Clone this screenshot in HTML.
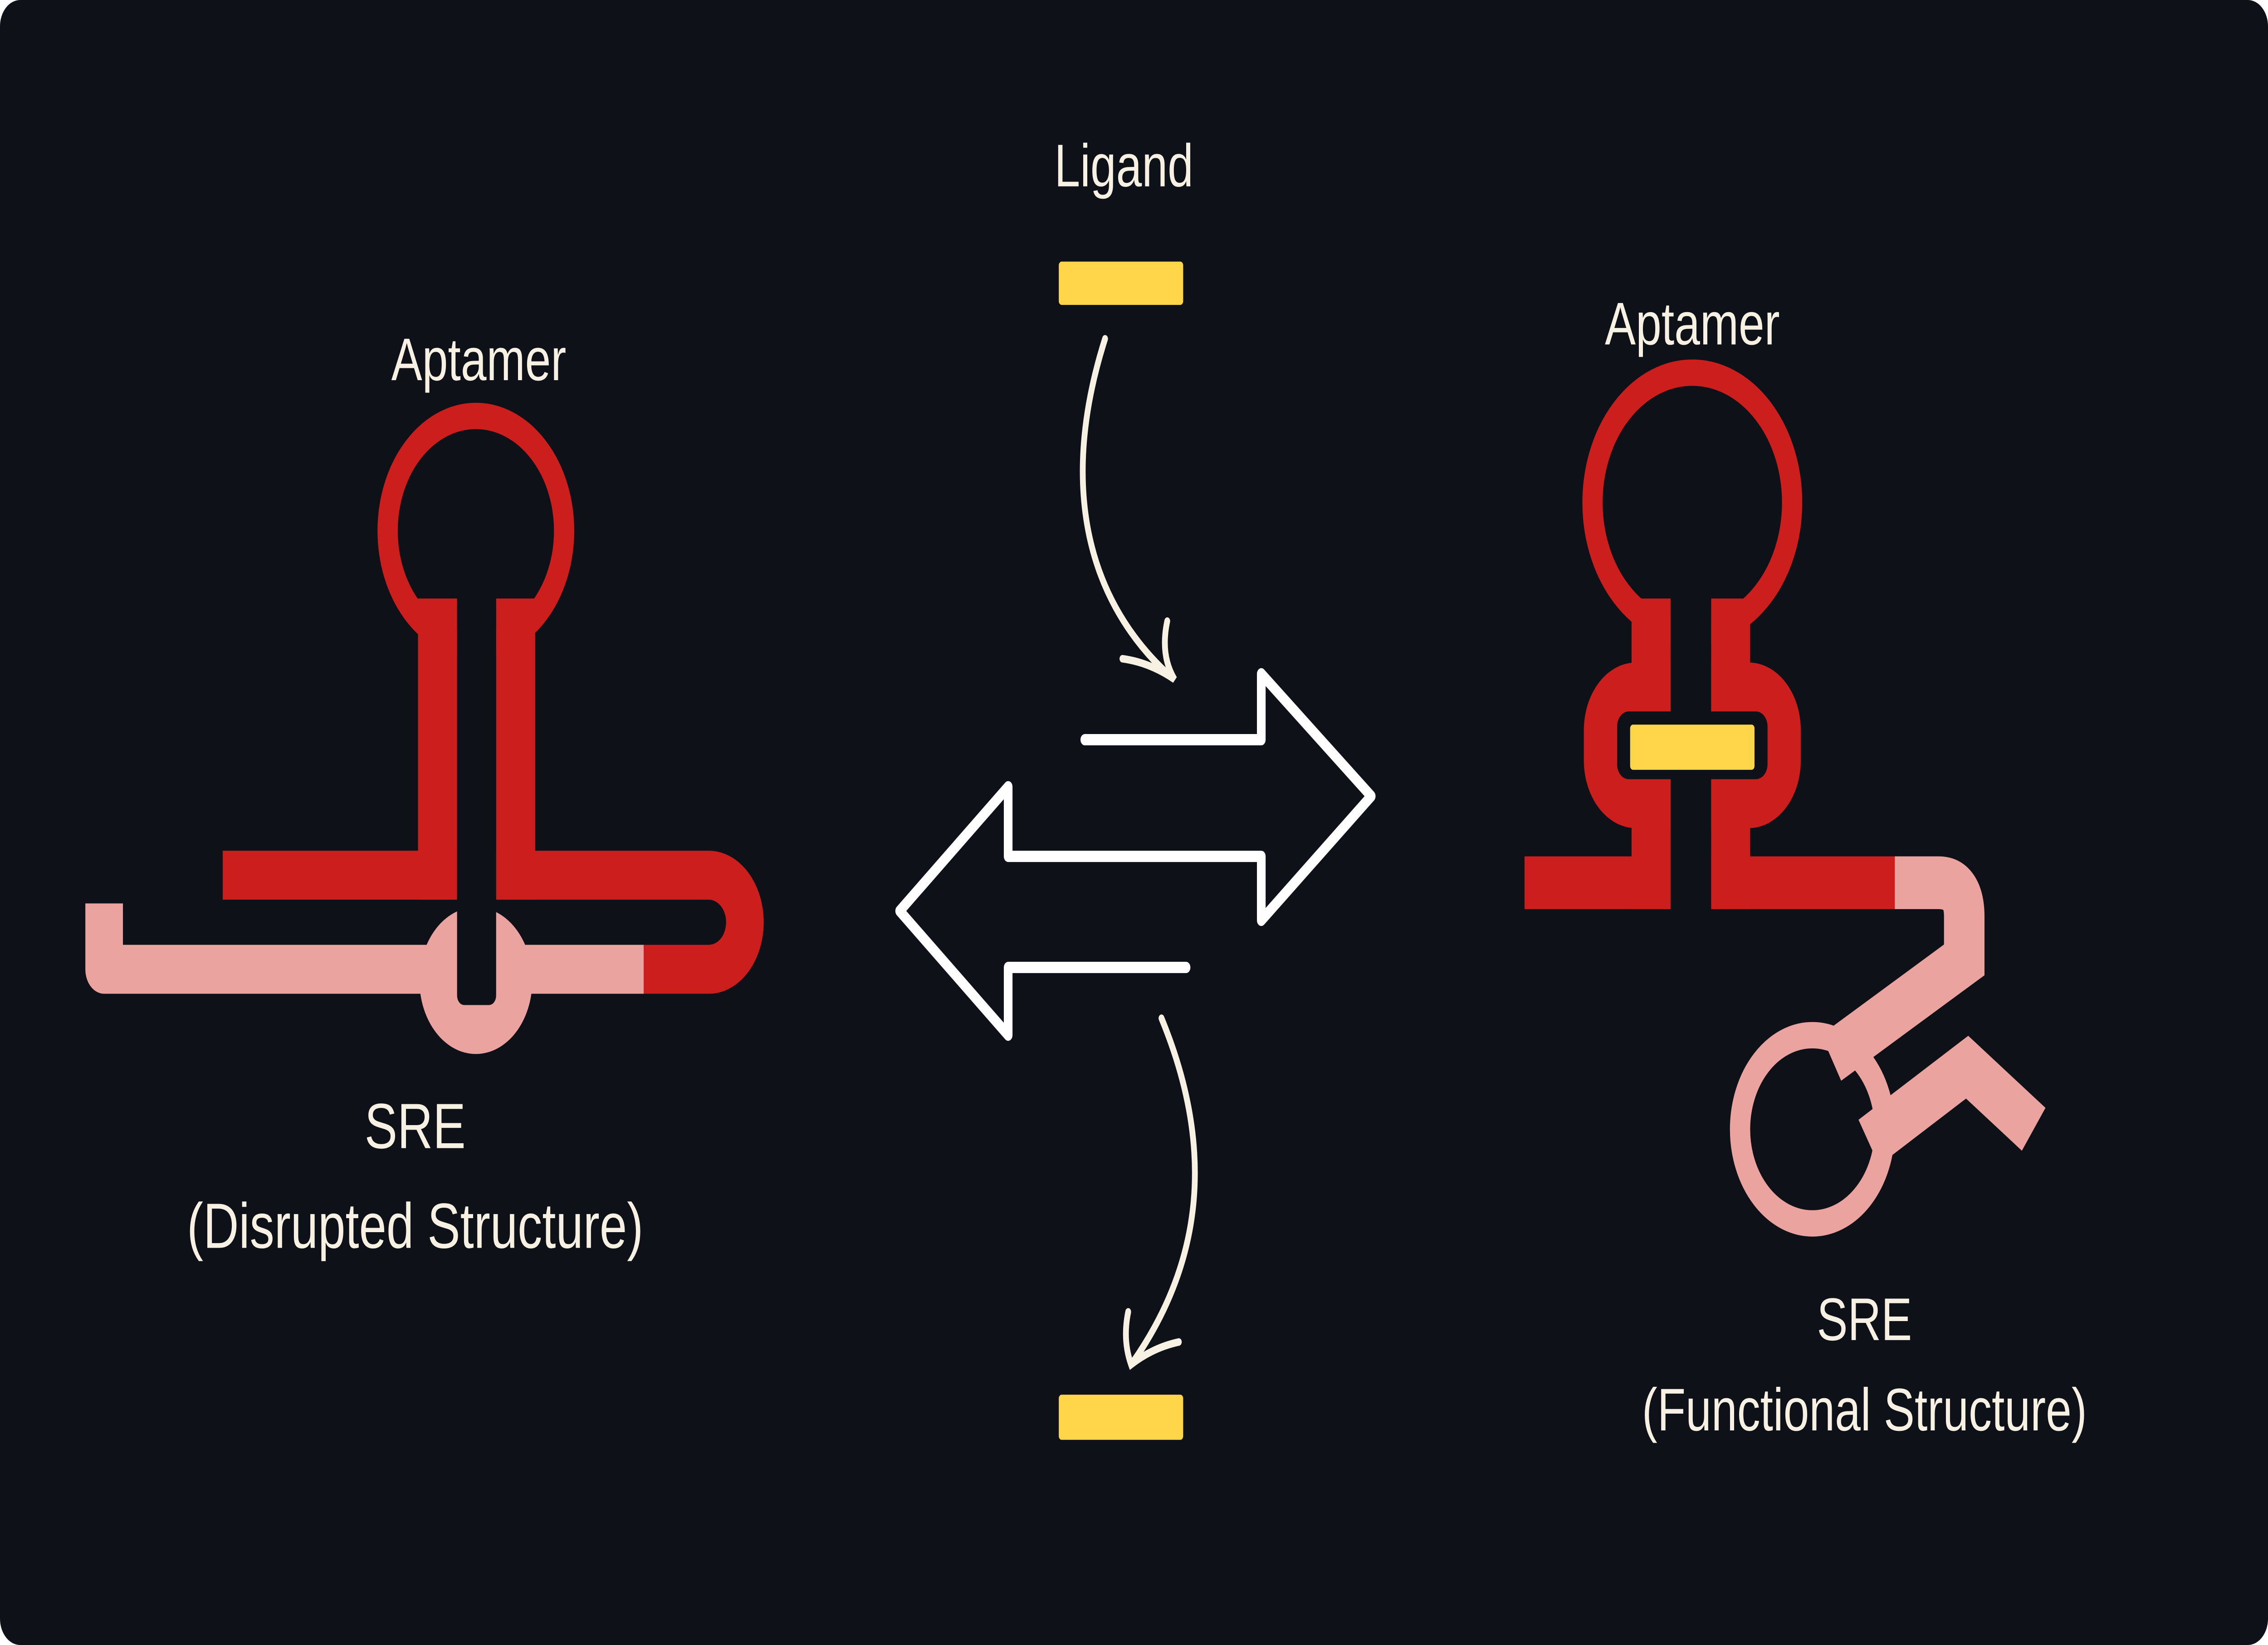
<!DOCTYPE html>
<html>
<head>
<meta charset="utf-8">
<style>
  html,body{margin:0;padding:0;background:#fff;width:100%;height:100%;overflow:hidden;}
  svg{display:block;width:100vw;height:100vh;}
  text{font-family:"Liberation Sans",sans-serif;fill:#f6f1e3;text-anchor:middle;}
</style>
</head>
<body>
<svg viewBox="0 0 1568 874" preserveAspectRatio="none" xmlns="http://www.w3.org/2000/svg">
  <rect x="0" y="0" width="1568" height="874" rx="14" fill="#0e1118"/>

  <g>
    <circle cx="329" cy="282" r="61" fill="none" stroke="#cc1f1d" stroke-width="14"/>
    <rect x="289" y="318" width="27" height="160" fill="#cc1f1d"/>
    <rect x="154" y="452" width="162" height="26" fill="#cc1f1d"/>
    <rect x="343" y="318" width="27" height="160" fill="#cc1f1d"/>
    <path d="M343 465 H490 A25 25 0 0 1 490 515 H445" fill="none" stroke="#cc1f1d" stroke-width="26"/>
    <circle cx="329" cy="521" r="39" fill="#eba39f"/>
    <path d="M72 480 V515 H445" fill="none" stroke="#eba39f" stroke-width="26" stroke-linejoin="round"/>
    <rect x="316" y="318" width="27" height="216" rx="5" fill="#0e1118"/>
  </g>
  <text x="331" y="202" font-size="32">Aptamer</text>
  <text x="287" y="610" font-size="34">SRE</text>
  <text x="287" y="663" font-size="34">(Disrupted Structure)</text>

  <text x="777" y="99" font-size="32">Ligand</text>
  <rect x="732" y="139" width="86" height="23" rx="2" fill="#ffd54a"/>
  <rect x="732" y="741" width="86" height="24" rx="2" fill="#ffd54a"/>
  <path d="M750 393 H872 V358 L948 423 L872 489 V455 H697 V418 L622 484 L697 550 V514 H820" fill="none" stroke="#ffffff" stroke-width="6" stroke-linecap="round" stroke-linejoin="round"/>
  <g fill="none" stroke="#f6f1e3" stroke-width="4" stroke-linecap="round">
    <path d="M764 180 C735 250 745 315 810 360"/>
    <path d="M776 350 Q795 352 812 361 Q802 348 807 330"/>
  </g>
  <g fill="none" stroke="#f6f1e3" stroke-width="4" stroke-linecap="round">
    <path d="M803 541 C840 610 832 670 783 724"/>
    <path d="M780 697 Q776 712 782 725 Q797 716 815 713"/>
  </g>

  <g>
    <circle cx="1170" cy="267" r="69" fill="none" stroke="#cc1f1d" stroke-width="14"/>
    <rect x="1128" y="318" width="27" height="165" fill="#cc1f1d"/>
    <rect x="1183" y="318" width="27" height="165" fill="#cc1f1d"/>
    <rect x="1095" y="352" width="150" height="88" rx="36" fill="#cc1f1d"/>
    <rect x="1054" y="455" width="101" height="28" fill="#cc1f1d"/>
    <rect x="1183" y="455" width="130" height="28" fill="#cc1f1d"/>
    <rect x="1155" y="318" width="28" height="166" fill="#0e1118"/>
    <rect x="1118" y="378" width="104" height="36" rx="8" fill="#0e1118"/>
    <rect x="1127" y="385" width="86" height="24" rx="2" fill="#ffd54a"/>
    <path d="M1310 469 H1340 Q1358 469 1358 487 V510 L1266 562" fill="none" stroke="#eba39f" stroke-width="28"/>
    <circle cx="1253" cy="600" r="50" fill="none" stroke="#eba39f" stroke-width="14"/>
    <path d="M1292 607 L1360 567 L1406 600" fill="none" stroke="#eba39f" stroke-width="28"/>
  </g>
  <text x="1170" y="183" font-size="32">Aptamer</text>
  <text x="1289" y="712" font-size="32">SRE</text>
  <text x="1289" y="760" font-size="32">(Functional Structure)</text>
</svg>
</body>
</html>
